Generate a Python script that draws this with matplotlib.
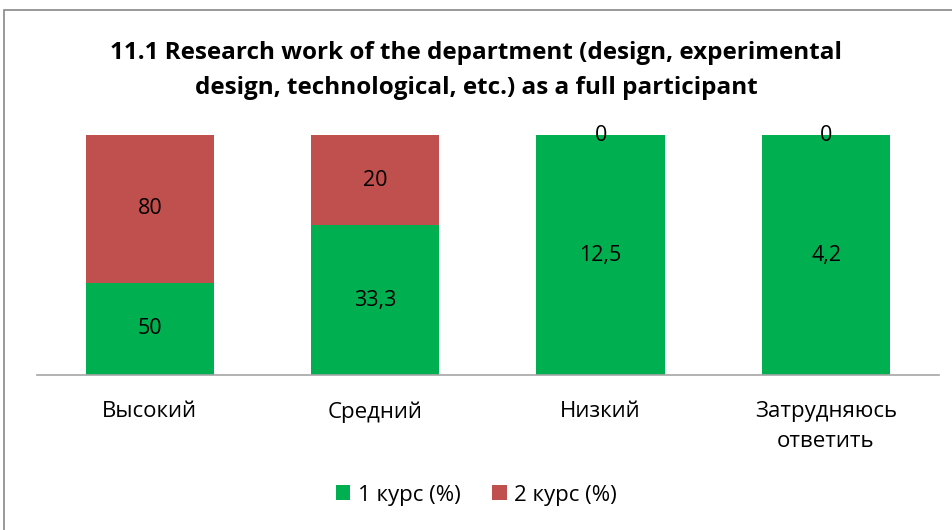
import matplotlib
matplotlib.use("Agg")
import matplotlib.pyplot as plt
from matplotlib.patches import Rectangle

plt.rcParams['font.family'] = ['Open Sans', 'DejaVu Sans']

categories = ["Высокий", "Средний", "Низкий", "Затрудняюсь\nответить"]
course1 = [50, 33.3, 12.5, 4.2]
course2 = [80, 20, 0, 0]
series_names = ["1 курс (%)", "2 курс (%)"]
colors = ["#00B050", "#C0504D"]


def fmt(v):
    return f"{v:g}".replace(".", ",")


# 100% stacked: normalise each category
totals = [a + b for a, b in zip(course1, course2)]
share1 = [a / t * 100 for a, t in zip(course1, totals)]
share2 = [b / t * 100 for b, t in zip(course2, totals)]

fig = plt.figure(figsize=(9.53, 5.30), dpi=100)
ax = fig.add_axes([0.039, 0.2925, 0.946, 0.4525])

x = range(len(categories))
w = 0.57
b1 = ax.bar(x, share1, w, color=colors[0], label=series_names[0])
b2 = ax.bar(x, share2, w, bottom=share1, color=colors[1], label=series_names[1])

for bars, vals, bottoms in ((b1, course1, [0] * 4), (b2, course2, share1)):
    for bar, v, bot in zip(bars, vals, bottoms):
        ax.text(bar.get_x() + bar.get_width() / 2, bot + bar.get_height() / 2,
                fmt(v), ha="center", va="center", fontsize=15.5, color="black")

ax.set_xlim(-0.5, len(categories) - 0.5)
ax.set_ylim(0, 100)
ax.set_yticks([])
ax.set_xticks(list(x))
ax.set_xticklabels(categories, fontsize=16, linespacing=1.55)
ax.tick_params(axis="x", length=0, pad=19)
for s in ("top", "right", "left"):
    ax.spines[s].set_visible(False)
ax.spines["bottom"].set_color("#A6A6A6")
ax.spines["bottom"].set_linewidth(1.2)

fig.text(0.5, 0.867, "11.1 Research work of the department (design, experimental\n"
         "design, technological, etc.) as a full participant",
         ha="center", va="center", fontsize=17.5, fontweight="bold", linespacing=1.6)

fig.legend(loc="center", bbox_to_anchor=(0.5, 0.066), ncol=2, frameon=False,
           fontsize=16, handlelength=0.65, handleheight=0.65, handletextpad=0.35,
           columnspacing=1.4)

fig.patches.append(Rectangle((4 / 953, -0.01), 1.0, 1 - 10 / 530 + 0.01,
                             transform=fig.transFigure, fill=False,
                             edgecolor="#888888", linewidth=1.2))

fig.savefig("out.png", dpi=100)
